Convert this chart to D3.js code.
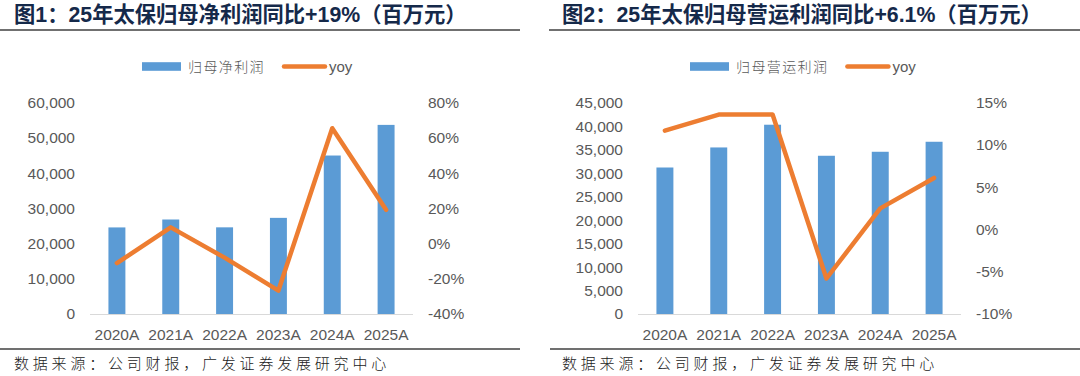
<!DOCTYPE html>
<html><head><meta charset="utf-8">
<script src="https://cdn.jsdelivr.net/npm/d3@7"></script>
<style>
html,body{margin:0;padding:0;background:#fff;}
svg{display:block;}
</style></head>
<body>
<svg id="c" width="1080" height="376"></svg>
<script>
const categories = ['2020A','2021A','2022A','2023A','2024A','2025A'];
const netProfit = [24584, 26834, 24609, 27300, 45000, 53700];
const netYoy = [-11.1, 9.2, -8.0, -26.7, 65.5, 19.2];
const opProfit = [31200, 35470, 40310, 33700, 34550, 36680];
const opYoy = [11.7, 13.6, 13.6, -5.8, 2.5, 6.1];

const leftTicks1 = [0,10000,20000,30000,40000,50000,60000];
const rightTicks1 = [-40,-20,0,20,40,60,80];
const leftTicks2 = [0,5000,10000,15000,20000,25000,30000,35000,40000,45000];
const rightTicks2 = [-10,-5,0,5,10,15];

const titles = ['图1：25年太保归母净利润同比+19%（百万元）','图2：25年太保归母营运利润同比+6.1%（百万元）'];
const barNames = ['归母净利润','归母营运利润'];
const lineName = 'yoy';
const sourceText = '数据来源：公司财报，广发证券发展研究中心';

const BLUE = '#5B9BD5', ORANGE = '#ED7D31', AX = '#595959';
const svg = d3.select('#c');
const fmt = d3.format(',');

const panels = [
  {ox:0, bars:netProfit, yoy:netYoy, lt:leftTicks1, rt:rightTicks1, title:titles[0], name:barNames[0], ruleL:0, ruleR:520, botL:0, botR:520},
  {ox:548, bars:opProfit, yoy:opYoy, lt:leftTicks2, rt:rightTicks2, title:titles[1], name:barNames[1], ruleL:549, ruleR:1080, botL:550, botR:1080}
];

panels.forEach(p => {
  const g = svg.append('g');
  const ox = p.ox;
  // title
  g.append('text').attr('x', 14 + ox).attr('y', 22)
    .attr('font-family','"Liberation Sans","Noto Sans CJK SC",sans-serif')
    .attr('font-weight','bold').attr('font-size', 21.3).attr('fill','#15294A')
    .text(p.title);
  g.append('line').attr('x1',p.ruleL).attr('x2',p.ruleR).attr('y1',30).attr('y2',30)
    .attr('stroke','#404040').attr('stroke-width',1.3);
  g.append('line').attr('x1',p.botL).attr('x2',p.botR).attr('y1',349).attr('y2',349)
    .attr('stroke','#404040').attr('stroke-width',1.3);
  g.append('text').attr('x', 14 + ox).attr('y', 369)
    .attr('font-family','"Noto Sans CJK SC",sans-serif').attr('font-weight',300)
    .attr('font-size',15).attr('letter-spacing',3.8).attr('fill','#1a1a1a')
    .text(sourceText);

  const x = d3.scaleBand().domain(categories).range([90+ox, 413+ox]).paddingInner(0.685).paddingOuter(0.3425);
  const yL = d3.scaleLinear().domain([p.lt[0], p.lt[p.lt.length-1]]).range([314, 102.7]);
  const yR = d3.scaleLinear().domain([p.rt[0], p.rt[p.rt.length-1]]).range([314, 102.7]);

  // left axis
  const la = g.append('g').attr('transform',`translate(${75+ox},0)`)
    .call(d3.axisLeft(yL).tickValues(p.lt).tickSize(0).tickPadding(0).tickFormat(fmt));
  la.select('.domain').remove();
  // right axis
  const ra = g.append('g').attr('transform',`translate(${428+ox},0)`)
    .call(d3.axisRight(yR).tickValues(p.rt).tickSize(0).tickPadding(0).tickFormat(d=>d+'%'));
  ra.select('.domain').remove();
  // x axis
  const xa = g.append('g').attr('transform','translate(0,314)')
    .call(d3.axisBottom(x).tickSize(0).tickPadding(0));
  xa.select('.domain').attr('stroke','#D9D9D9').attr('stroke-width',1.2)
    .attr('d', `M${90+ox},0.5H${413+ox}`);
  xa.selectAll('text').attr('dy',null).attr('y',26);
  [la,ra,xa].forEach(a => a.selectAll('text')
    .attr('font-family','"Liberation Sans",Arial,sans-serif').attr('font-size',15.5).attr('fill',AX));

  // bars
  g.append('g').selectAll('rect').data(p.bars).join('rect')
    .attr('x',(d,i)=>x(categories[i])).attr('width',x.bandwidth())
    .attr('y',d=>yL(d)).attr('height',d=>yL(0)-yL(d)).attr('fill',BLUE);
  // line
  const line = d3.line().x((d,i)=>x(categories[i])+x.bandwidth()/2).y(d=>yR(d));
  g.append('path').datum(p.yoy).attr('d',line).attr('fill','none')
    .attr('stroke',ORANGE).attr('stroke-width',4.5).attr('stroke-linejoin','round').attr('stroke-linecap','round');

  // legend
  const lg = g.append('g');
  let lx = 142 + ox;
  const ly = 66.5;
  lg.append('rect').attr('x',lx).attr('y',ly-4.3).attr('width',39).attr('height',8.6).attr('fill',BLUE);
  lx += 46;
  const t1 = lg.append('text').attr('x',lx).attr('y',ly+5)
    .attr('font-family','"Noto Sans CJK SC",sans-serif').attr('font-weight',300)
    .attr('font-size',14).attr('letter-spacing',1.4).attr('fill',AX).text(p.name);
  lx += t1.node().getComputedTextLength() + 19;
  lg.append('line').attr('x1',lx).attr('x2',lx+41).attr('y1',ly).attr('y2',ly)
    .attr('stroke',ORANGE).attr('stroke-width',4.5).attr('stroke-linecap','round');
  lx += 45;
  lg.append('text').attr('x',lx).attr('y',ly+5)
    .attr('font-family','"Liberation Sans",Arial,sans-serif').attr('font-size',15).attr('fill',AX).text(lineName);
});
</script>
</body></html>
